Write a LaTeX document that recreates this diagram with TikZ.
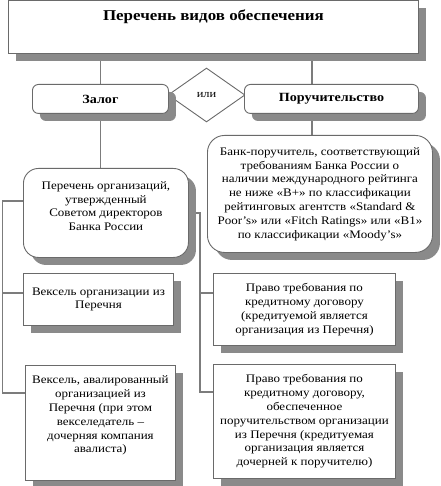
\documentclass[tikz,border=0pt]{standalone}
\usepackage{fontspec}
\setmainfont{Liberation Serif}[FakeStretch=1.13]
\usetikzlibrary{shapes.geometric,shadows}
\pgfdeclarelayer{bg}
\pgfsetlayers{bg,main}
\definecolor{boxline}{HTML}{6A6A6A}
\definecolor{connline}{HTML}{7C7C7C}
\definecolor{shadowgray}{HTML}{8A8A8A}
\tikzset{
  shad/.style={drop shadow={shadow xshift=7.5pt,shadow yshift=-7.5pt,fill=shadowgray,opacity=1}},
  sqbox/.style={draw=boxline,line width=0.9pt,fill=white,shad,inner sep=0pt,anchor=north west,align=center,font=\fontsize{11.5}{13.8}\selectfont},
  rbox/.style={sqbox,rounded corners=#1},
  conn/.style={draw=connline,line width=1.4pt},
  headtext/.style={font=\fontsize{12.5}{15}\selectfont\bfseries},
}
\begin{document}
\begin{tikzpicture}[x=1pt,y=-1pt]
\useasboundingbox (0,0) rectangle (440,486);
% diamond (behind boxes)
\node[diamond,draw=boxline,line width=0.9pt,fill=white,minimum width=77pt,minimum height=54pt,inner sep=0pt,font=\fontsize{11}{13}\selectfont] (ili) at (206.5,95) {или};
% boxes
\node[sqbox,minimum width=410pt,minimum height=52.5pt,font=\fontsize{15}{17}\selectfont\bfseries,text height=10pt,text depth=23pt] (top) at (8,0.5) {Перечень видов обеспечения};
\node[rbox=6pt,minimum width=136pt,minimum height=29pt,headtext] (zalog) at (32,84) {Залог};
\node[rbox=6pt,minimum width=174pt,minimum height=29pt,headtext] (por) at (244,84) {Поручительство};
\node[rbox=15pt,minimum width=165pt,minimum height=89pt] (org) at (23,168) {Перечень организаций,\\ утвержденный\\ Советом директоров\\ Банка России\\[0pt]\mbox{}};
\node[rbox=17pt,minimum width=225pt,minimum height=117pt] (bank) at (207,135) {Банк-поручитель, соответствующий\\ требованиям Банка России о\\ наличии международного рейтинга\\ не ниже «B+» по классификации\\ рейтинговых агентств «Standard \&\\ Poor’s» или «Fitch Ratings» или «B1»\\ по классификации «Moody’s»};
\node[sqbox,minimum width=150pt,minimum height=52pt] (vex1) at (23,273) {Вексель организации из\\ Перечня};
\node[sqbox,minimum width=150pt,minimum height=115pt] (vex2) at (25,365) {Вексель, авалированный\\ организацией из\\ Перечня (при этом\\ векселедатель –\\ дочерняя компания\\ авалиста)\\[3pt]\mbox{}};
\node[sqbox,minimum width=182pt,minimum height=72pt] (pr1) at (213,273) {Право требования по\\ кредитному договору\\ (кредитуемой является\\ организация из Перечня)};
\node[sqbox,minimum width=182pt,minimum height=114pt] (pr2) at (213,364) {Право требования по\\ кредитному договору,\\ обеспеченное\\ поручительством организации\\ из Перечня (кредитуемая\\ организация является\\ дочерней к поручителю)};
% connector helper points
\coordinate (pl) at (312,0);
\coordinate (lt) at (2.5,201);
\coordinate (lm) at (2.5,293);
\coordinate (lb) at (2.5,393);
\coordinate (rt) at (200,213);
\coordinate (rm) at (200,293);
\coordinate (rb) at (200,392);
\begin{pgfonlayer}{bg}
\draw[conn] (zalog.north) -- (zalog.north |- top.south);
\draw[conn] (pl |- top.south) -- (pl |- por.north);
\draw[conn] (zalog.south) -- (zalog.south |- org.north);
\draw[conn] (pl |- por.south) -- (pl |- bank.north);
\draw[conn] (lt -| org.west) -- (lt) -- (lb) -- (lb -| vex2.west);
\draw[conn] (lm) -- (lm -| vex1.west);
\draw[conn] (rt -| org.east) -- (rt) -- (rb) -- (rb -| pr2.west);
\draw[conn] (rm) -- (rm -| pr1.west);
\end{pgfonlayer}
\end{tikzpicture}
\end{document}
